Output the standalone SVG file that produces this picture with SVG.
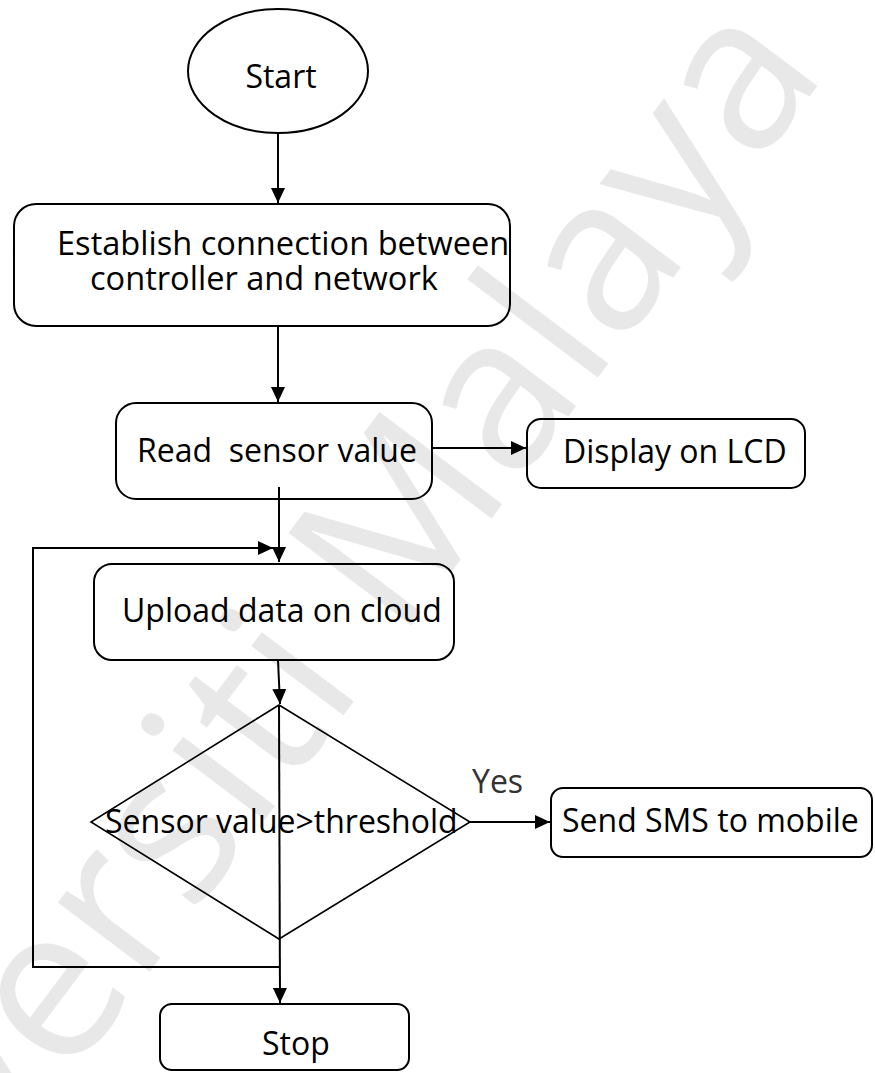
<svg xmlns="http://www.w3.org/2000/svg" width="875" height="1073" viewBox="0 0 875 1073">
<style>
.shape{fill:none;stroke:#000;stroke-width:2}
.lbl{font-family:"Open Sans","Liberation Sans",sans-serif;font-size:32px;fill:#000}
.conn{fill:none;stroke:#000;stroke-width:2}
.wm{font-family:"Open Sans","Liberation Sans",sans-serif;font-size:215px;fill:#e8e8e8}
</style>
<defs>
<marker id="arr" markerUnits="userSpaceOnUse" markerWidth="16" markerHeight="14" refX="15" refY="7" orient="auto">
<path d="M0,0 L15,7 L0,14 Z" fill="#000"/>
</marker>
</defs>
<rect width="875" height="1073" fill="#fff"/>
<g id="watermark">
<text class="wm" transform="translate(828,72) rotate(-53)" text-anchor="end">Universiti Malaya</text>
</g>
<g id="start">
<ellipse class="shape" cx="278" cy="71" rx="90" ry="62"/>
<text class="lbl" x="281" y="88" text-anchor="middle">Start</text>
</g>
<g id="establish">
<rect class="shape" x="14" y="204" width="496" height="122" rx="22"/>
<text class="lbl" style="font-size:32.6px"><tspan x="57" y="255">Establish connection between</tspan><tspan x="90" y="290">controller and network</tspan></text>
</g>
<g id="read">
<rect class="shape" x="116" y="403" width="316" height="96" rx="20"/>
<text class="lbl" x="137" y="462" xml:space="preserve">Read  sensor value</text>
</g>
<g id="display">
<rect class="shape" x="527" y="419" width="278" height="69" rx="14"/>
<text class="lbl" x="563" y="463">Display on LCD</text>
</g>
<g id="upload">
<rect class="shape" x="94" y="564" width="360" height="96" rx="18"/>
<text class="lbl" x="122" y="622">Upload data on cloud</text>
</g>
<g id="decision">
<polygon class="shape" points="279,705 470,822 279,939 91,822" style="stroke-width:1.6"/>
<text class="lbl" x="105" y="833">Sensor value&gt;threshold</text>
</g>
<g id="sms">
<rect class="shape" x="551" y="788" width="321" height="69" rx="12"/>
<text class="lbl" x="562" y="832">Send SMS to mobile</text>
</g>
<g id="stop">
<rect class="shape" x="160" y="1004" width="249" height="66" rx="12"/>
<text class="lbl" x="262" y="1055">Stop</text>
</g>
<g id="connectors">
<line class="conn" x1="278" y1="134" x2="278" y2="203" marker-end="url(#arr)"/>
<line class="conn" x1="278" y1="327" x2="278" y2="402" marker-end="url(#arr)"/>
<line class="conn" x1="432" y1="448" x2="526" y2="448" marker-end="url(#arr)"/>
<line class="conn" x1="279" y1="487" x2="279" y2="562" marker-end="url(#arr)"/>
<polyline class="conn" points="279,967 33,967 33,548 273,548" marker-end="url(#arr)"/>
<line class="conn" x1="278" y1="660" x2="280" y2="704" marker-end="url(#arr)"/>
<line class="conn" x1="279" y1="705" x2="280" y2="1003" marker-end="url(#arr)"/>
<line class="conn" x1="470" y1="822" x2="550" y2="822" marker-end="url(#arr)"/>
<text class="lbl" x="472" y="793" style="fill:#333">Yes</text>
</g>
</svg>
